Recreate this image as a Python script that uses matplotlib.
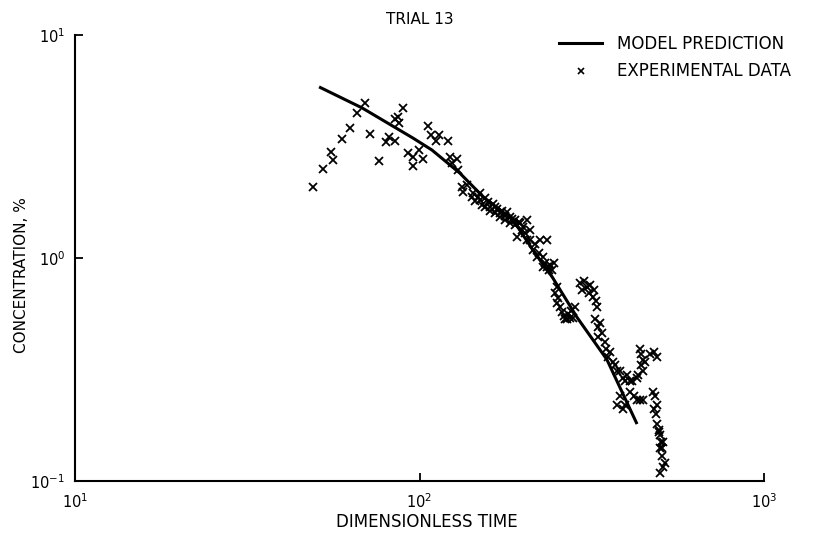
"""Trial 13: model prediction vs. experimental concentration, log-log."""

import matplotlib

matplotlib.use("Agg")
import matplotlib.pyplot as plt  # noqa: E402
from matplotlib.lines import Line2D  # noqa: E402
from matplotlib.ticker import FixedLocator, FuncFormatter, NullLocator  # noqa: E402

# model curve (dimensionless time, concentration %)
model_t = [51.1, 68.1, 95.7, 108.6, 131, 153, 187, 213, 243, 287, 350, 428]
model_c = [5.85, 4.71, 3.45, 3.05, 2.40, 1.88, 1.48, 1.09, 0.82, 0.54, 0.35, 0.18]

# measured points
exp_t = [
    49.1, 52.5, 56.1, 55.4, 59.6, 62.9, 65.9, 69.5, 71.8, 76.2, 79.9, 81.5,
    84.9, 84.9, 86.6, 87.2, 89.5, 92.6, 95.7, 95.7, 99.7, 102.4, 105.8, 108,
    111.6, 114, 121, 122.7, 128.5, 124.3, 129.4, 132.8, 137.3, 133.7, 142,
    143, 145, 148, 150, 150, 152, 155, 155, 158, 160, 160, 163, 166, 166, 168,
    171, 171, 174, 177, 177, 180, 183, 183, 186, 189, 189, 192, 194, 196, 198,
    200, 202, 205, 205, 209, 209, 213, 216, 219, 222, 224, 228, 228, 231, 234,
    234, 238, 240, 243, 246,
    247, 250, 251, 253, 256, 259, 262, 265, 268, 270, 273, 276, 279, 282,
    293, 297, 300, 306, 310, 313, 319, 322, 327, 325,
    323, 330, 334, 330, 338, 345, 352, 348, 358, 365, 370, 374, 382, 390, 395,
    400, 409, 414, 409, 420, 428, 436, 446, 374, 382, 390, 395,
    436, 440, 446, 467, 480, 489, 450, 446, 431, 428, 440,
    476, 483, 489, 480, 486, 489, 495, 499, 503, 506, 500, 509, 497, 505,
    499, 509, 516,
]
exp_c = [
    2.08, 2.51, 2.75, 2.98, 3.42, 3.83, 4.47, 4.95, 3.60, 2.72, 3.31, 3.49,
    3.35, 4.20, 4.29, 4.03, 4.71, 2.96, 2.59, 2.84, 3.05, 2.78, 3.91, 3.56,
    3.35, 3.56, 3.35, 2.84, 2.78, 2.67, 2.48, 2.08, 2.12, 1.98, 1.88,
    1.95, 1.80, 1.88, 1.82, 1.95, 1.72, 1.85, 1.69, 1.78, 1.69, 1.62, 1.75,
    1.69, 1.59, 1.65, 1.59, 1.53, 1.62, 1.55, 1.48, 1.60, 1.53, 1.44, 1.50,
    1.48, 1.40, 1.24, 1.45, 1.44, 1.34, 1.38, 1.30, 1.48, 1.20, 1.20, 1.34,
    1.09, 1.15, 1.01, 1.05, 1.20, 1.01, 0.91, 0.95, 0.91, 1.20, 0.88, 0.93,
    0.88, 0.95,
    0.70, 0.74, 0.63, 0.66, 0.60, 0.57, 0.55, 0.53, 0.53, 0.56, 0.54, 0.58,
    0.54, 0.60,
    0.77, 0.72, 0.79, 0.74, 0.70, 0.76, 0.67, 0.72, 0.60, 0.64,
    0.53, 0.49, 0.51, 0.44, 0.46, 0.42, 0.36, 0.39, 0.38, 0.34, 0.33, 0.31,
    0.31, 0.29, 0.28, 0.30, 0.28, 0.28, 0.25, 0.24, 0.23, 0.23, 0.23, 0.22,
    0.24, 0.21, 0.22,
    0.39, 0.37, 0.35, 0.37, 0.38, 0.36, 0.34, 0.31, 0.30, 0.29, 0.33,
    0.25, 0.24, 0.22, 0.21, 0.20, 0.18, 0.17, 0.16, 0.15, 0.14, 0.14, 0.15,
    0.165, 0.13,
    0.109, 0.116, 0.12,
]

x_ticks = [10, 100, 1000]
x_tick_labels = [r"$10^{1}$", r"$10^{2}$", r"$10^{3}$"]
y_ticks = [0.1, 1, 10]
y_tick_labels = [r"$10^{-1}$", r"$10^{0}$", r"$10^{1}$"]

plt.rcParams["font.family"] = "DejaVu Sans"
plt.rcParams["mathtext.fontset"] = "dejavusans"

fig = plt.figure(figsize=(8.2, 5.33), dpi=100)
ax = fig.add_axes([0.0915, 0.0976, 0.8402, 0.8368])

ax.plot(model_t, model_c, color="black", linewidth=2.2, solid_capstyle="butt")
ax.plot(exp_t, exp_c, linestyle="none", marker="x", markersize=5.5,
        markeredgewidth=1.3, color="black")

ax.set_xscale("log")
ax.set_yscale("log")
ax.set_xlim(10, 1000)
ax.set_ylim(0.1, 10)

ax.xaxis.set_major_locator(FixedLocator(x_ticks))
ax.yaxis.set_major_locator(FixedLocator(y_ticks))
ax.xaxis.set_minor_locator(NullLocator())
ax.yaxis.set_minor_locator(NullLocator())
ax.xaxis.set_major_formatter(FuncFormatter(lambda v, i: x_tick_labels[x_ticks.index(round(v))]))
ax.yaxis.set_major_formatter(FuncFormatter(lambda v, i: y_tick_labels[y_ticks.index(round(v, 1))]))

for side in ("top", "right"):
    ax.spines[side].set_visible(False)
for side in ("left", "bottom"):
    ax.spines[side].set_linewidth(1.5)
ax.tick_params(direction="in", length=6, width=1.3, labelsize=10.5)
ax.tick_params(axis="x", pad=8)
ax.tick_params(axis="y", pad=7)

ax.set_title("TRIAL 13", fontsize=11, pad=8)
ax.set_xlabel("DIMENSIONLESS TIME", fontsize=12)
ax.xaxis.set_label_coords(0.511, -0.072)
ax.set_ylabel("CONCENTRATION, %", fontsize=11)
ax.yaxis.set_label_coords(-0.067, 0.462)

handles = [
    Line2D([], [], color="black", linewidth=2.2),
    Line2D([], [], linestyle="none", marker="x", markersize=4,
           markeredgewidth=1.2, color="black"),
]
fig.legend(handles, ["MODEL PREDICTION", "EXPERIMENTAL DATA"],
           loc="upper left", bbox_to_anchor=(0.6817, 0.934), frameon=False,
           fontsize=12, borderpad=0, borderaxespad=0, handlelength=2.6,
           handletextpad=0.9, labelspacing=0.55)

fig.savefig("out.png", dpi=100)
